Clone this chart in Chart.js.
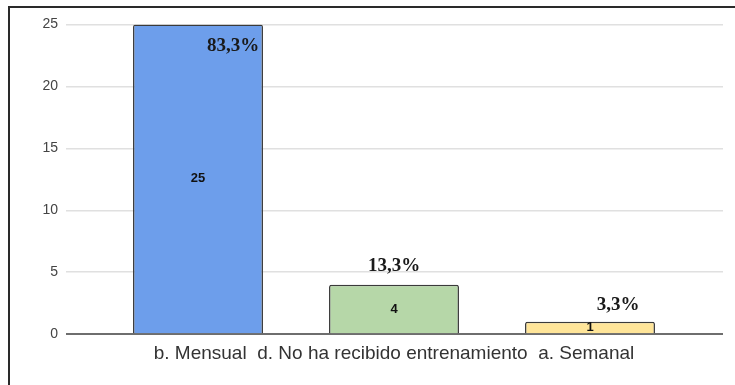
<!DOCTYPE html>
<html>
<head>
<meta charset="utf-8">
<script src="https://cdn.jsdelivr.net/npm/chart.js@4/dist/chart.umd.min.js"></script>
<style>
  html, body { margin: 0; padding: 0; background: #fff; overflow: hidden; }
  #wrap { position: relative; width: 735px; height: 385px; }
  #frame {
    position: absolute; left: 8px; top: 6px; width: 800px; height: 500px;
    border-left: 2px solid #2a2a2a; border-top: 2px solid #2a2a2a;
    pointer-events: none;
  }
  #chart { position: absolute; left: 0; top: 0; }
</style>
</head>
<body>
<div id="wrap">
  <canvas id="chart" width="735" height="385"></canvas>
  <div id="frame"></div>
</div>
<script>
// respuestas y frecuencias
const categories = ['b. Mensual', 'd. No ha recibido entrenamiento', 'a. Semanal'];
const counts = [25, 4, 1];
const barColors = ['#6d9eeb', '#b6d7a8', '#ffe599'];
const yTicks = [0, 5, 10, 15, 20, 25];

const total = counts.reduce((a, b) => a + b, 0);
const pctText = v => (v / total * 100).toFixed(1).replace('.', ',') + '%';

// where each percentage box sits relative to the top of its bar
const pctPlace = [
  { dx: 35, dy: 22 },
  { dx: 0, dy: -19 },
  { dx: 28, dy: -17 }
];

const gridColor = ctx => (ctx.tick && ctx.tick.value === 0) ? '#6e6e6e' : '#e0e0e0';
const gridWidth = ctx => (ctx.tick && ctx.tick.value === 0) ? 2 : 1.6;

const barLabels = {
  id: 'barLabels',
  afterDatasetsDraw(chart) {
    const c = chart.ctx;
    const meta = chart.getDatasetMeta(0);
    meta.data.forEach((bar, i) => {
      const v = counts[i];
      c.save();
      c.fillStyle = '#111';
      c.textAlign = 'center';
      c.textBaseline = 'middle';
      c.font = 'bold 13px "Liberation Sans", Arial, sans-serif';
      c.fillText(String(v), bar.x, (bar.y + bar.base) / 2);
      c.font = 'bold 19px "Liberation Serif", "Times New Roman", serif';
      c.fillStyle = '#1a1a1a';
      c.fillText(pctText(v), bar.x + pctPlace[i].dx, bar.y + pctPlace[i].dy);
      c.restore();
    });
  }
};

new Chart(document.getElementById('chart'), {
  type: 'bar',
  data: {
    labels: categories,
    datasets: [{
      data: counts,
      backgroundColor: barColors,
      borderColor: '#3a3a3a',
      borderWidth: 1.5,
      borderRadius: 2,
      borderSkipped: 'bottom',
      categoryPercentage: 1,
      barPercentage: 0.663
    }]
  },
  options: {
    responsive: false,
    animation: false,
    layout: { padding: { top: 24.5, right: 12, bottom: 20, left: 0 } },
    plugins: {
      legend: { display: false },
      tooltip: { enabled: false }
    },
    scales: {
      x: {
        grid: { display: false },
        border: { display: false },
        ticks: { display: false },
        title: {
          display: true,
          text: categories.join('  '),
          color: '#333',
          font: { family: '"Liberation Sans", Arial, sans-serif', size: 19 },
          padding: { top: 0, bottom: 0 }
        }
      },
      y: {
        min: 0,
        max: 25,
        afterBuildTicks: s => { s.ticks = yTicks.map(v => ({ value: v })); },
        afterFit: s => { s.width = 100; },
        border: { display: false },
        grid: { color: gridColor, lineWidth: gridWidth, tickLength: 34 },
        ticks: {
          padding: 8,
          color: '#444',
          font: { family: '"Liberation Sans", Arial, sans-serif', size: 14 }
        }
      },
      // right-hand stub so the gridlines run past the last bar
      y2: {
        position: 'right',
        min: 0,
        max: 25,
        afterBuildTicks: s => { s.ticks = yTicks.map(v => ({ value: v })); },
        afterFit: s => { s.width = 35; },
        border: { display: false },
        grid: { color: gridColor, lineWidth: gridWidth, tickLength: 35, drawOnChartArea: false },
        ticks: { display: false }
      }
    }
  },
  plugins: [barLabels]
});
</script>
</body>
</html>
